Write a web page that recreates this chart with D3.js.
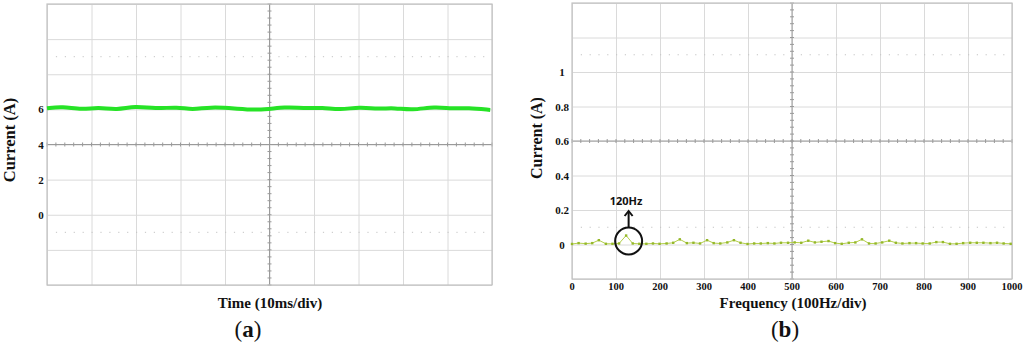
<!DOCTYPE html>
<html>
<head>
<meta charset="utf-8">
<script src="https://cdn.jsdelivr.net/npm/d3@7"></script>
<style>
  body { margin: 0; background: #fff; }
  svg { display: block; }
  .lbl { font-family: "Liberation Serif", "Times New Roman", serif; font-weight: bold; fill: #111; }
</style>
</head>
<body>
<svg></svg>
<script>
const size = {w: 1024, h: 344};
const svg = d3.select('svg').attr('width', size.w).attr('height', size.h);

// panel (a): time trace, ms vs A
const timeMs = [0, 3.4, 7.9, 11.5, 15.7, 19.8, 24.3, 29.4, 32.6, 36.6, 42.2, 47.2, 53.9, 57.5,
    62.0, 65.8, 70.3, 74.4, 78.2, 82.0, 87.2, 91.0, 94.6, 99.6];
const currentA = [6.06, 6.17, 5.98, 6.13, 5.96, 6.20, 6.03, 6.14, 5.97, 6.14, 6.06, 5.94, 6.15, 6.06,
    6.11, 5.97, 6.14, 6.02, 6.09, 5.94, 6.17, 6.03, 6.09, 5.97];
const yTicksA = [0, 2, 4, 6];

// panel (b): spectrum, Hz vs A
const freqHz = [0, 15, 31, 46, 61, 77, 92, 107, 123, 138, 153, 169, 184, 199, 215, 230, 245, 261,
    276, 291, 307, 322, 337, 353, 368, 383, 399, 414, 429, 445, 460, 475, 491, 506, 521, 537, 552,
    567, 583, 598, 613, 629, 644, 659, 675, 690, 705, 721, 736, 751, 767, 782, 797, 813, 828, 843,
    859, 874, 889, 905, 920, 935, 951, 966, 981, 997];
const ampA = [0.003, 0.008, 0.005, 0.008, 0.025, 0.004, 0.004, 0.006, 0.052, 0.006, 0.004, 0.004,
    0.006, 0.004, 0.006, 0.010, 0.030, 0.008, 0.010, 0.006, 0.025, 0.008, 0.006, 0.012, 0.025,
    0.010, 0.003, 0.006, 0.006, 0.008, 0.006, 0.010, 0.010, 0.012, 0.010, 0.022, 0.012, 0.016,
    0.020, 0.008, 0.004, 0.010, 0.012, 0.030, 0.006, 0.006, 0.012, 0.022, 0.010, 0.006, 0.008,
    0.008, 0.006, 0.006, 0.014, 0.014, 0.004, 0.004, 0.008, 0.010, 0.010, 0.010, 0.008, 0.010,
    0.006, 0.004];
const yTicksB = [0, 0.2, 0.4, 0.6, 0.8, 1];
const xTicksB = [0, 100, 200, 300, 400, 500, 600, 700, 800, 900, 1000];

// draws the scope style grid: light divisions, dark centre cross with minor ticks, dotted lines
function drawGrid(g, x, y, xDivs, yDivs, xCenter, yCenter, dotted) {
    const [x0, x1] = x.range();
    const [y0, y1] = y.range();

    g.append('g')
        .attr('transform', 'translate(0,' + y0 + ')')
        .call(d3.axisBottom(x).tickValues(xDivs).tickSize(y1 - y0).tickFormat(''))
        .call(a => a.select('.domain').remove())
        .selectAll('line').attr('stroke', '#dadada');
    g.append('g')
        .attr('transform', 'translate(' + x0 + ',0)')
        .call(d3.axisRight(y).tickValues(yDivs).tickSize(x1 - x0).tickFormat(''))
        .call(a => a.select('.domain').remove())
        .selectAll('line').attr('stroke', '#dadada');

    const dx = (x1 - x0) / (xDivs.length - 1) / 5;
    dotted.forEach(v => {
        g.append('line')
            .attr('x1', x0 + dx).attr('x2', x1)
            .attr('y1', y(v)).attr('y2', y(v))
            .attr('stroke', '#c4c4c4')
            .attr('stroke-dasharray', '1.2,' + (dx - 1.2));
    });

    // centre cross
    const cx = x(xCenter), cy = y(yCenter);
    g.append('line').attr('x1', x0).attr('x2', x1).attr('y1', cy).attr('y2', cy)
        .attr('stroke', '#9a9a9a');
    g.append('line').attr('x1', cx).attr('x2', cx).attr('y1', y0).attr('y2', y1)
        .attr('stroke', '#9a9a9a');
    const dy = (y0 - y1) / (yDivs.length - 1) / 5;
    d3.range(x0, x1 + 0.1, dx).forEach(px => {
        g.append('line').attr('x1', px).attr('x2', px).attr('y1', cy - 2).attr('y2', cy + 2)
            .attr('stroke', '#9a9a9a');
    });
    d3.range(y1, y0 + 0.1, dy).forEach(py => {
        g.append('line').attr('x1', cx - 2).attr('x2', cx + 2).attr('y1', py).attr('y2', py)
            .attr('stroke', '#9a9a9a');
    });

    g.append('rect')
        .attr('x', x0).attr('y', y1)
        .attr('width', x1 - x0).attr('height', y0 - y1)
        .attr('fill', 'none').attr('stroke', '#c2c2c2').attr('stroke-width', 1.2);
}

// ---------- panel (a)
const xA = d3.scaleLinear().domain([0, 100]).range([47, 492]);
const yA = d3.scaleLinear().domain([-4, 12]).range([285, 4]);
const gA = svg.append('g');
drawGrid(gA, xA, yA, d3.range(0, 101, 10), d3.range(-4, 12.1, 2), 50, 4, [9, -1]);

gA.append('path')
    .datum(timeMs.map((t, i) => [t, currentA[i]]))
    .attr('fill', 'none')
    .attr('stroke', '#26e326')
    .attr('stroke-width', 4)
    .attr('d', d3.line().x(d => xA(d[0])).y(d => yA(d[1])).curve(d3.curveBasis));

gA.selectAll('text.tick')
    .data(yTicksA).enter().append('text')
    .attr('class', 'lbl')
    .attr('x', 41).attr('y', d => yA(d) + 4)
    .attr('text-anchor', 'middle')
    .style('font-size', '11px')
    .text(d => d);

svg.append('text').attr('class', 'lbl')
    .attr('transform', 'translate(15,140) rotate(-90)')
    .attr('text-anchor', 'middle')
    .style('font-size', '16.5px')
    .text('Current (A)');
svg.append('text').attr('class', 'lbl')
    .attr('x', 270).attr('y', 308)
    .attr('text-anchor', 'middle')
    .style('font-size', '15px')
    .text('Time (10ms/div)');
const capA = svg.append('text').attr('class', 'lbl')
    .attr('x', 248).attr('y', 337)
    .attr('text-anchor', 'middle')
    .style('font-size', '23px');
capA.append('tspan').style('font-weight', 'normal').text('(');
capA.append('tspan').text('a');
capA.append('tspan').style('font-weight', 'normal').text(')');

// ---------- panel (b)
const xB = d3.scaleLinear().domain([0, 1000]).range([572, 1012]);
const yB = d3.scaleLinear().domain([-0.2, 1.4]).range([279, 3]);
const gB = svg.append('g');
drawGrid(gB, xB, yB, xTicksB, d3.range(-0.2, 1.41, 0.2), 500, 0.6, [1.1, 0.1]);

const spec = freqHz.map((f, i) => [f, ampA[i]]);
gB.append('path')
    .datum(spec)
    .attr('fill', 'none')
    .attr('stroke', '#b4d04a')
    .attr('stroke-width', 1)
    .attr('d', d3.line().x(d => xB(d[0])).y(d => yB(d[1])));
gB.selectAll('rect.pt')
    .data(spec).enter().append('rect')
    .attr('class', 'pt')
    .attr('x', d => xB(d[0]) - 1.2).attr('y', d => yB(d[1]) - 1.2)
    .attr('width', 2.4).attr('height', 2.4)
    .attr('fill', '#95b82a');

gB.selectAll('text.ytick')
    .data(yTicksB).enter().append('text')
    .attr('class', 'lbl')
    .attr('x', 562).attr('y', d => yB(d) + 4)
    .attr('text-anchor', 'middle')
    .style('font-size', '11px')
    .text(d => d);
gB.selectAll('text.xtick')
    .data(xTicksB).enter().append('text')
    .attr('class', 'lbl')
    .attr('x', d => xB(d)).attr('y', 290)
    .attr('text-anchor', 'middle')
    .style('font-size', '10.5px')
    .text(d => d);

// 120Hz marker
const pk = spec[8];
gB.append('circle')
    .attr('cx', xB(pk[0]) + 2.5).attr('cy', 241)
    .attr('r', 13.5)
    .attr('fill', 'none').attr('stroke', '#111').attr('stroke-width', 2);
gB.append('line')
    .attr('x1', xB(pk[0]) + 2.5).attr('x2', xB(pk[0]) + 2.5)
    .attr('y1', 227).attr('y2', 212)
    .attr('stroke', '#111').attr('stroke-width', 2);
gB.append('path')
    .attr('d', 'M' + (xB(pk[0]) - 1.5) + ',216 L' + (xB(pk[0]) + 2.5) + ',211 L' + (xB(pk[0]) + 6.5) + ',216')
    .attr('fill', 'none').attr('stroke', '#111').attr('stroke-width', 2);
gB.append('text')
    .attr('x', 626).attr('y', 205)
    .attr('text-anchor', 'middle')
    .style('font-family', '"Noto Sans", "DejaVu Sans", sans-serif')
    .style('font-weight', 'bold')
    .style('font-size', '11px')
    .style('fill', '#111')
    .text('120Hz');

svg.append('text').attr('class', 'lbl')
    .attr('transform', 'translate(542,138) rotate(-90)')
    .attr('text-anchor', 'middle')
    .style('font-size', '16px')
    .text('Current (A)');
svg.append('text').attr('class', 'lbl')
    .attr('x', 793).attr('y', 308)
    .attr('text-anchor', 'middle')
    .style('font-size', '15px')
    .text('Frequency (100Hz/div)');
const capB = svg.append('text').attr('class', 'lbl')
    .attr('x', 785).attr('y', 337)
    .attr('text-anchor', 'middle')
    .style('font-size', '23px');
capB.append('tspan').style('font-weight', 'normal').text('(');
capB.append('tspan').text('b');
capB.append('tspan').style('font-weight', 'normal').text(')');
</script>
</body>
</html>
